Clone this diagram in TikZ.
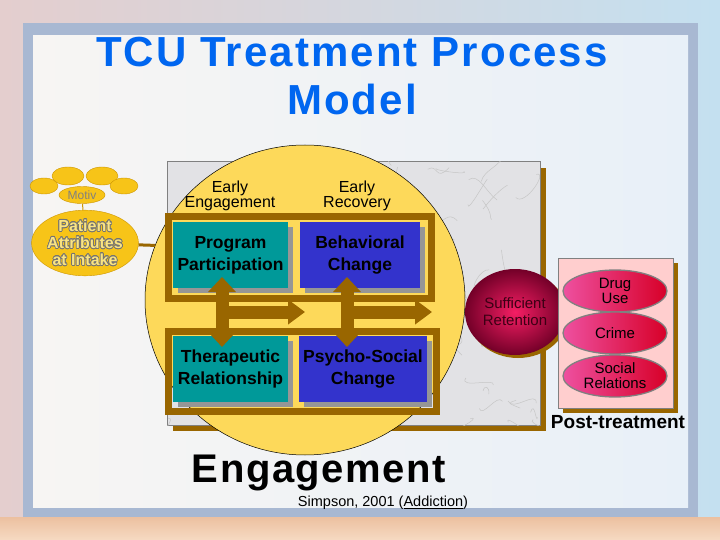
\documentclass[tikz,border=0pt]{standalone}
\usepackage{fontspec}
\setmainfont{Liberation Sans}
\usepackage[copies]{contour}
\usetikzlibrary{calc,shapes.geometric,arrows.meta}

\definecolor{brownc}{RGB}{153,102,0}
\definecolor{tealc}{RGB}{0,153,153}
\definecolor{bluec}{RGB}{51,51,204}
\definecolor{yellowc}{RGB}{253,217,90}
\definecolor{patientc}{RGB}{247,196,24}
\definecolor{patientline}{RGB}{205,150,0}
\definecolor{titleblue}{RGB}{0,102,240}
\definecolor{pinkc}{RGB}{255,206,206}
\definecolor{marblec}{RGB}{226,226,229}
\definecolor{boxshadow}{RGB}{150,150,150}
\definecolor{framec}{RGB}{168,184,210}
\contourlength{0.7pt}

\begin{document}
\begin{tikzpicture}[x=1pt,y=-1pt]
    \tikzstyle{every node}=[inner sep=1, align=center, text=black]
    \tikzstyle{box}=[rectangle, inner sep=2, minimum height=66, font=\bfseries\fontsize{17.5}{22}\selectfont,
        preaction={fill=boxshadow, transform canvas={xshift=5pt, yshift=-5pt}}]
    \tikzstyle{stagelabel}=[font=\fontsize{16}{13}\selectfont]
    \tikzstyle{outcome}=[ellipse, minimum width=104, minimum height=42, inner sep=0, draw=gray, line width=1.3pt,
        left color={rgb,255:red,238;green,80;blue,160}, right color={rgb,255:red,215;green,0;blue,40},
        font=\fontsize{15}{15}\selectfont]
    \tikzstyle{bigarrow}=[draw=brownc, line width=13pt]
    \useasboundingbox (0,0) rectangle (720,540);

    % background and slide panel
    \fill[left color={rgb,255:red,228;green,206;blue,206}, right color={rgb,255:red,196;green,224;blue,240}] (0,0) rectangle (720,540);
    \fill[top color={rgb,255:red,236;green,192;blue,160}, bottom color={rgb,255:red,246;green,218;blue,194}] (0,517) rectangle (720,540);
    \fill[framec] (23,23) rectangle (698,517);
    \fill[left color={rgb,255:red,247;green,245;blue,243}, right color={rgb,255:red,232;green,240;blue,248}] (33,36) rectangle (688,507);

    \node[font=\bfseries\fontsize{42}{47.5}\selectfont\addfontfeatures{LetterSpace=5}, text=titleblue] (title) at (352,76) {TCU Treatment Process\\Model};

    % marble block
    \fill[brownc] (173,168) rectangle (546,431);
    \draw[gray, line width=1pt, fill=marblec] (167,162) rectangle (540,425);
    \begin{scope}
        \clip (167,162) rectangle (540,425);
        \pgfmathsetseed{11}
        \foreach \i in {1,...,110}
            \draw[gray!45, line width=0.5pt] (167+rnd*373,162+rnd*263) .. controls +(rand*15,rand*15) and +(rand*15,rand*15) .. +(rand*30,rand*30);
    \end{scope}

    % engagement circle
    \node[ellipse, minimum width=320, minimum height=310, inner sep=0, fill=yellowc, draw=black, line width=0.5pt] (engcirc) at (305,300) {};

    % frames round the two rows
    \draw[brownc, line width=7pt] (168.5,216.5) rectangle (431.5,298.5);
    \draw[brownc, line width=7pt] (168.5,331.5) rectangle (436.5,411.5);

    \node[box, fill=tealc, minimum width=115] (prog) at (230.5,255) {Program\\Participation};
    \node[box, fill=bluec, minimum width=120] (behav) at (360,255) {Behavioral\\Change};
    \node[box, fill=tealc, minimum width=115] (thera) at (230.5,369) {Therapeutic\\Relationship};
    \node[box, fill=bluec, minimum width=128] (psycho) at (363,369) {Psycho-Social\\Change};

    \node[stagelabel] (early1) at (230,196) {Early\\Engagement};
    \node[stagelabel] (early2) at (357,196) {Early\\Recovery};

    % arrows between the rows
    \coordinate (a1) at (222,277);
    \coordinate (a2) at (222,347);
    \coordinate (a3) at (347,277);
    \coordinate (a4) at (347,347);
    \coordinate (h1) at (222,312);
    \coordinate (h2) at (305,312);
    \coordinate (h3) at (347,312);
    \coordinate (h4) at (432,312);
    \draw[bigarrow, {Triangle[width=27pt,length=15pt]}-{Triangle[width=27pt,length=15pt]}] (a1) -- (a2);
    \draw[bigarrow, {Triangle[width=27pt,length=15pt]}-{Triangle[width=27pt,length=15pt]}] (a3) -- (a4);
    \draw[bigarrow, -{Triangle[width=24pt,length=17pt]}] (h1) -- (h2);
    \draw[bigarrow, -{Triangle[width=24pt,length=17pt]}] (h3) -- (h4);

    % patient attributes
    \filldraw[fill=patientc, draw=patientline] (44,186) ellipse [x radius=14, y radius=8];
    \filldraw[fill=patientc, draw=patientline] (68,176) ellipse [x radius=16, y radius=9];
    \filldraw[fill=patientc, draw=patientline] (102,176) ellipse [x radius=16, y radius=9];
    \filldraw[fill=patientc, draw=patientline] (124,186) ellipse [x radius=14, y radius=8];
    \node[ellipse, fill=patientc, draw=patientline, minimum width=46, minimum height=17, inner sep=0,
        text=gray, font=\fontsize{12}{12}\selectfont] (motiv) at (82,195) {Motiv};
    \node[ellipse, fill=patientc, draw=patientline, minimum width=88, minimum height=57, inner sep=0,
        text={rgb,255:red,250;green,228;blue,130}, font=\bfseries\fontsize{16}{17}\selectfont] (patient) at (85,243)
        {\contour{black!55}{Patient}\\\contour{black!55}{Attributes}\\\contour{black!55}{at Intake}};
    \draw[patientline, line width=1pt] (motiv) -- (patient);
    \draw[brownc, line width=3pt] (patient) -- (engcirc.160);

    % retention and outcomes
    \node[ellipse, minimum width=100, minimum height=86, inner sep=0,
        preaction={fill=brownc, transform canvas={xshift=3pt, yshift=-3pt}},
        inner color={rgb,255:red,245;green,30;blue,100}, outer color={rgb,255:red,115;green,0;blue,40},
        text={rgb,255:red,60;green,0;blue,20}, font=\fontsize{15}{17}\selectfont] (retain) at (515,312) {Sufficient\\Retention};
    \node[rectangle, fill=pinkc, draw=gray, minimum width=115, minimum height=150,
        preaction={fill=brownc, transform canvas={xshift=5pt, yshift=-5pt}}] (outbox) at (615.5,333) {};
    \node[outcome] (drug) at (615,291) {Drug\\Use};
    \node[outcome] (crime) at (615,333) {Crime};
    \node[outcome] (social) at (615,376) {Social\\Relations};
    \node[font=\bfseries\fontsize{19}{19}\selectfont] (post) at (618,422) {Post-treatment};

    \node[font=\bfseries\fontsize{40}{40}\selectfont\addfontfeatures{LetterSpace=4}] (engage) at (319,473) {Engagement};
    \node[font=\fontsize{14.5}{15}\selectfont] (cite) at (383,503) {Simpson, 2001 (\underline{Addiction})};
\end{tikzpicture}
\end{document}
